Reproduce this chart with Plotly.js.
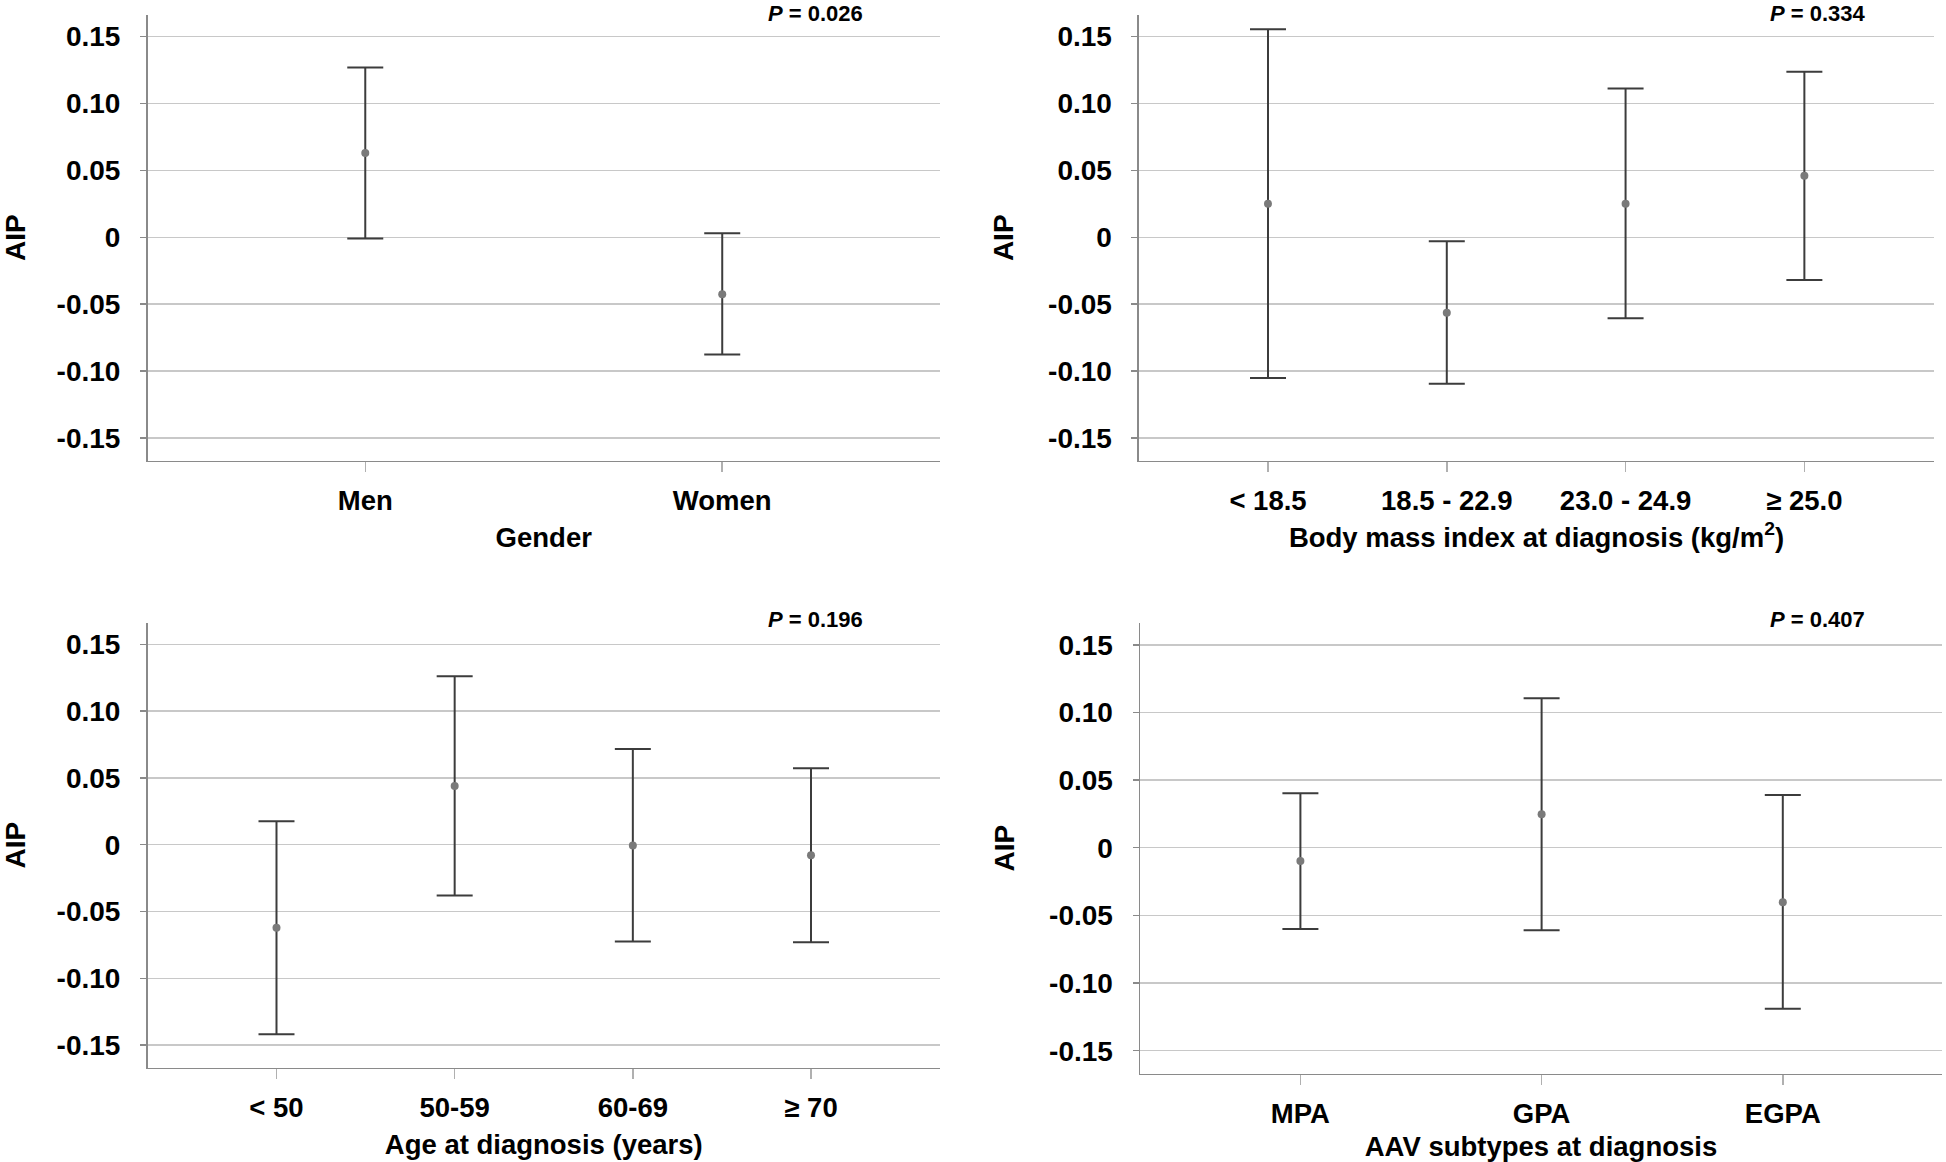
<!DOCTYPE html>
<html>
<head>
<meta charset="utf-8">
<script src="https://cdn.plot.ly/plotly-3.0.1.min.js"></script>
<style>
  html, body { margin: 0; padding: 0; background: #ffffff; }
  #chart { width: 1946px; height: 1162px; }
</style>
</head>
<body>
<div id="chart"></div>
<script>
// ---- Data ----
const genderCats  = ["Men", "Women"];
const genderMean  = [0.063, -0.0425];
const genderUpper = [0.127, 0.003];
const genderLower = [-0.001, -0.0876];
const genderP     = "0.026";

const bmiCats  = ["< 18.5", "18.5 - 22.9", "23.0 - 24.9", "≥ 25.0"];
const bmiMean  = [0.025, -0.0564, 0.025, 0.0459];
const bmiUpper = [0.1555, -0.003, 0.1113, 0.1238];
const bmiLower = [-0.1052, -0.1094, -0.0605, -0.032];
const bmiP     = "0.334";

const ageCats  = ["< 50", "50-59", "60-69", "≥ 70"];
const ageMean  = [-0.0622, 0.0439, -0.0006, -0.0078];
const ageUpper = [0.0175, 0.1261, 0.0717, 0.0572];
const ageLower = [-0.142, -0.038, -0.0725, -0.0731];
const ageP     = "0.196";

const aavCats  = ["MPA", "GPA", "EGPA"];
const aavMean  = [-0.0099, 0.0247, -0.0403];
const aavUpper = [0.0403, 0.1105, 0.0389];
const aavLower = [-0.060, -0.0609, -0.119];
const aavP     = "0.407";

const yTickVals = [-0.15, -0.10, -0.05, 0, 0.05, 0.10, 0.15];
const yTickText = ["-0.15", "-0.10", "-0.05", "0", "0.05", "0.10", "0.15"];
const yTitle = "AIP";
const xTitles = ["Gender", "Body mass index at diagnosis (kg/m<sup>2</sup>)",
                 "Age at diagnosis (years)", "AAV subtypes at diagnosis"];

// ---- Styling ----
const FONT = "Liberation Sans, Arial, Helvetica, sans-serif";
const panels = [
  {cats: genderCats, mean: genderMean, up: genderUpper, lo: genderLower, p: genderP,
   xd: [0.07580, 0.48304], yd: [0.60353, 0.98726], xr: [-0.61, 1.61], px: 0.4193, py: 1.0},
  {cats: bmiCats, mean: bmiMean, up: bmiUpper, lo: bmiLower, p: bmiP,
   xd: [0.58530, 0.99383], yd: [0.60353, 0.98726], xr: [-0.7215, 3.725], px: 0.9342, py: 1.0},
  {cats: ageCats, mean: ageMean, up: ageUpper, lo: ageLower, p: ageP,
   xd: [0.07580, 0.48304], yd: [0.08115, 0.46411], xr: [-0.724, 3.724], px: 0.4191, py: 0.4785},
  {cats: aavCats, mean: aavMean, up: aavUpper, lo: aavLower, p: aavP,
   xd: [0.58582, 0.99794], yd: [0.07599, 0.46411], xr: [-0.665, 2.66], px: 0.9342, py: 0.4785}
];

const traces = [];
const layout = {
  width: 1946, height: 1162,
  margin: {l: 0, r: 0, t: 0, b: 0},
  paper_bgcolor: "#ffffff", plot_bgcolor: "#ffffff",
  showlegend: false,
  font: {family: FONT, color: "#000000", size: 27, weight: "bold"},
  annotations: []
};

panels.forEach((pn, i) => {
  const n = i + 1;
  const xa = n === 1 ? "x" : "x" + n;
  const ya = n === 1 ? "y" : "y" + n;
  traces.push({
    type: "scatter", mode: "markers",
    x: pn.cats, y: pn.mean,
    xaxis: xa, yaxis: ya,
    marker: {color: "#7a7a7a", size: 8},
    error_y: {
      type: "data", symmetric: false,
      array: pn.up.map((u, k) => u - pn.mean[k]),
      arrayminus: pn.lo.map((l, k) => pn.mean[k] - l),
      color: "#3c3c3c", thickness: 2, width: 18
    },
    hoverinfo: "x+y"
  });
  const xKey = n === 1 ? "xaxis" : "xaxis" + n;
  const yKey = n === 1 ? "yaxis" : "yaxis" + n;
  layout[xKey] = {
    domain: pn.xd, anchor: ya, type: "category",
    range: pn.xr, showgrid: false, zeroline: false,
    showline: true, linecolor: "#8a8a8a", linewidth: 1.5,
    ticks: "outside", ticklen: 10, tickwidth: 1.5, tickcolor: "#b0b0b0",
    tickfont: {family: FONT, size: 27.5, color: "#000", weight: "bold"},
    ticklabelstandoff: 5,
    title: {text: xTitles[i], font: {family: FONT, size: 27.5, color: "#000", weight: "bold"}, standoff: 12},
    automargin: false, fixedrange: true
  };
  layout[yKey] = {
    domain: pn.yd, anchor: xa, range: [-0.167, 0.1663],
    tickvals: yTickVals, ticktext: yTickText,
    showgrid: true, gridcolor: "#c8c8c8", gridwidth: 1.5,
    zeroline: false, showline: true, linecolor: "#8a8a8a", linewidth: 1.5,
    ticks: "outside", ticklen: 6, tickwidth: 1.5, tickcolor: "#8a8a8a",
    tickfont: {family: FONT, size: 28, color: "#000", weight: "bold"},
    ticklabelstandoff: 14,
    title: {text: yTitle, font: {family: FONT, size: 28, color: "#000", weight: "bold"}, standoff: 26},
    automargin: false, fixedrange: true
  };
  layout.annotations.push({
    xref: "paper", yref: "paper", x: pn.px, y: pn.py,
    xanchor: "center", yanchor: "top", showarrow: false, borderpad: 0,
    text: "<i>P</i> = " + pn.p,
    font: {family: FONT, size: 22, color: "#000", weight: "bold"}
  });
});

Plotly.newPlot("chart", traces, layout, {displayModeBar: false, staticPlot: true});
</script>
</body>
</html>
